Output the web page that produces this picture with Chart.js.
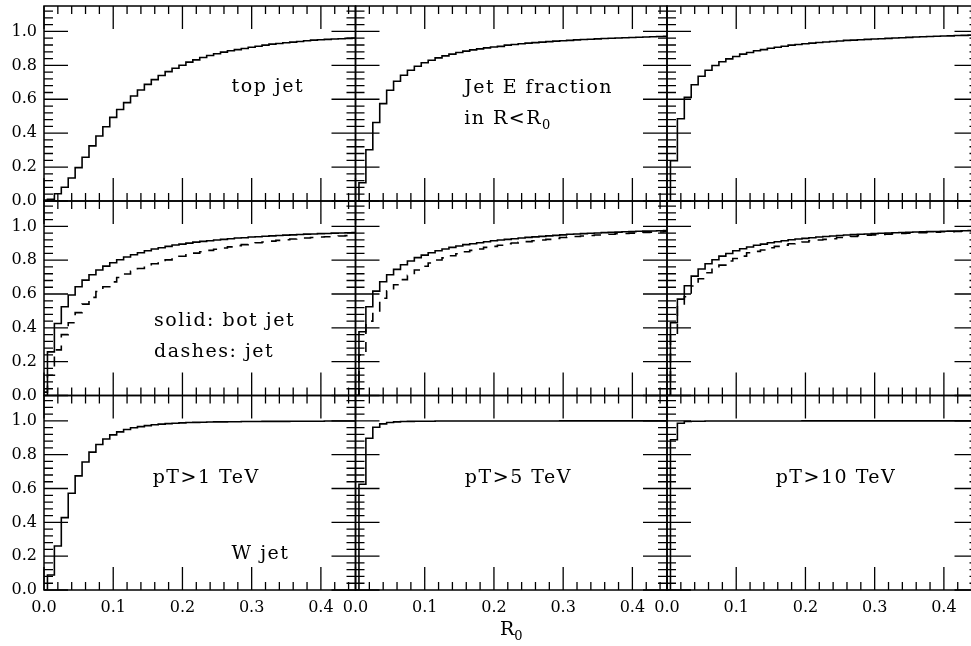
<!DOCTYPE html>
<html lang="en">
<head>
<meta charset="UTF-8">
<title>Jet E fraction in R&lt;R0</title>
<script src="https://cdn.jsdelivr.net/npm/chart.js@4"></script>
<style>
    html, body { margin: 0; padding: 0; overflow: hidden; background: #fff; }
    #figura { position: relative; width: 971px; height: 646px; overflow: hidden; }
    #figura canvas { position: absolute; left: 0; top: 0; }
</style>
</head>
<body>
<div id="figura"></div>

<script>
    // R0 bins (bin width 0.01)
    var rBins = [0.00, 0.01, 0.02, 0.03, 0.04, 0.05, 0.06, 0.07, 0.08, 0.09,
                 0.10, 0.11, 0.12, 0.13, 0.14, 0.15, 0.16, 0.17, 0.18, 0.19,
                 0.20, 0.21, 0.22, 0.23, 0.24, 0.25, 0.26, 0.27, 0.28, 0.29,
                 0.30, 0.31, 0.32, 0.33, 0.34, 0.35, 0.36, 0.37, 0.38, 0.39,
                 0.40, 0.41, 0.42, 0.43, 0.44, 0.45];

    var xTicks = [0.0, 0.1, 0.2, 0.3, 0.4];
    var yTicks = [0.0, 0.2, 0.4, 0.6, 0.8, 1.0];

    // top jet
    var topJet1 = [0.005, 0.010, 0.043, 0.081, 0.136, 0.197, 0.258, 0.325, 0.383, 0.438,
                   0.493, 0.540, 0.580, 0.619, 0.655, 0.688, 0.716, 0.740, 0.763, 0.783,
                   0.801, 0.819, 0.832, 0.846, 0.858, 0.868, 0.878, 0.886, 0.893, 0.899,
                   0.907, 0.913, 0.919, 0.925, 0.929, 0.933, 0.937, 0.941, 0.945, 0.949,
                   0.951, 0.953, 0.955, 0.957, 0.959, 0.961];
    var topJet5 = [0.000, 0.108, 0.302, 0.463, 0.574, 0.653, 0.706, 0.742, 0.771, 0.795,
                   0.815, 0.830, 0.844, 0.856, 0.866, 0.876, 0.884, 0.891, 0.897, 0.903,
                   0.908, 0.912, 0.919, 0.923, 0.927, 0.931, 0.934, 0.937, 0.940, 0.943,
                   0.945, 0.947, 0.950, 0.952, 0.954, 0.956, 0.958, 0.960, 0.961, 0.963,
                   0.964, 0.966, 0.967, 0.969, 0.970, 0.971];
    var topJet10 = [0.000, 0.237, 0.485, 0.611, 0.686, 0.736, 0.771, 0.799, 0.821, 0.838,
                    0.852, 0.866, 0.876, 0.886, 0.893, 0.901, 0.907, 0.913, 0.919, 0.923,
                    0.927, 0.931, 0.935, 0.938, 0.941, 0.944, 0.947, 0.949, 0.951, 0.953,
                    0.955, 0.957, 0.959, 0.961, 0.963, 0.965, 0.967, 0.969, 0.970, 0.972,
                    0.973, 0.974, 0.976, 0.977, 0.978, 0.979];

    // bot jet (solid) and light jet (dashes)
    var botJet1 = [0.000, 0.258, 0.426, 0.525, 0.594, 0.643, 0.682, 0.714, 0.742, 0.765,
                   0.785, 0.803, 0.819, 0.832, 0.844, 0.856, 0.866, 0.874, 0.882, 0.890,
                   0.895, 0.901, 0.907, 0.911, 0.915, 0.919, 0.923, 0.927, 0.931, 0.933,
                   0.937, 0.939, 0.942, 0.944, 0.946, 0.948, 0.950, 0.952, 0.954, 0.955,
                   0.957, 0.958, 0.960, 0.961, 0.962, 0.963];
    var jet1 = [0.020, 0.120, 0.270, 0.360, 0.430, 0.490, 0.540, 0.580, 0.615, 0.643,
                0.672, 0.698, 0.718, 0.735, 0.751, 0.766, 0.779, 0.791, 0.802, 0.813,
                0.823, 0.832, 0.842, 0.850, 0.858, 0.865, 0.872, 0.879, 0.886, 0.892,
                0.898, 0.903, 0.908, 0.913, 0.917, 0.921, 0.925, 0.928, 0.931, 0.934,
                0.937, 0.939, 0.941, 0.943, 0.945, 0.947];
    var botJet5 = [0.000, 0.377, 0.525, 0.617, 0.673, 0.714, 0.746, 0.773, 0.795, 0.815,
                   0.830, 0.844, 0.856, 0.866, 0.876, 0.884, 0.892, 0.897, 0.903, 0.909,
                   0.915, 0.919, 0.923, 0.927, 0.931, 0.935, 0.938, 0.941, 0.944, 0.947,
                   0.950, 0.953, 0.955, 0.957, 0.959, 0.961, 0.963, 0.965, 0.966, 0.968,
                   0.969, 0.971, 0.972, 0.973, 0.974, 0.975];
    var jet5 = [0.000, 0.240, 0.440, 0.500, 0.575, 0.619, 0.655, 0.685, 0.710, 0.742,
                0.764, 0.783, 0.801, 0.814, 0.826, 0.838, 0.850, 0.858, 0.866, 0.876,
                0.882, 0.888, 0.897, 0.902, 0.906, 0.910, 0.915, 0.919, 0.923, 0.929,
                0.934, 0.937, 0.940, 0.943, 0.946, 0.949, 0.951, 0.953, 0.956, 0.958,
                0.960, 0.962, 0.964, 0.966, 0.967, 0.968];
    var botJet10 = [0.000, 0.430, 0.570, 0.649, 0.706, 0.748, 0.779, 0.803, 0.824, 0.840,
                    0.856, 0.868, 0.878, 0.888, 0.895, 0.903, 0.909, 0.915, 0.921, 0.925,
                    0.929, 0.933, 0.937, 0.940, 0.943, 0.946, 0.949, 0.951, 0.953, 0.955,
                    0.957, 0.959, 0.961, 0.962, 0.964, 0.965, 0.967, 0.968, 0.969, 0.970,
                    0.971, 0.972, 0.973, 0.974, 0.975, 0.976];
    var jet10 = [0.000, 0.360, 0.535, 0.584, 0.647, 0.690, 0.726, 0.751, 0.771, 0.795,
                 0.810, 0.824, 0.844, 0.852, 0.860, 0.874, 0.882, 0.889, 0.897, 0.903,
                 0.908, 0.915, 0.919, 0.923, 0.927, 0.934, 0.937, 0.940, 0.945, 0.948,
                 0.950, 0.952, 0.954, 0.956, 0.958, 0.960, 0.962, 0.963, 0.965, 0.966,
                 0.968, 0.969, 0.970, 0.971, 0.972, 0.973];

    // W jet
    var wJet1 = [0.000, 0.089, 0.260, 0.428, 0.572, 0.675, 0.757, 0.815, 0.860, 0.893,
                 0.917, 0.935, 0.949, 0.959, 0.966, 0.972, 0.977, 0.981, 0.984, 0.986,
                 0.988, 0.990, 0.991, 0.992, 0.993, 0.994, 0.994, 0.995, 0.995, 0.996,
                 0.996, 0.996, 0.997, 0.997, 0.997, 0.997, 0.998, 0.998, 0.998, 0.998,
                 0.998, 0.999, 0.999, 0.999, 0.999, 0.999];
    var wJet5 = [0.000, 0.625, 0.897, 0.962, 0.982, 0.990, 0.994, 0.996, 0.997, 0.998,
                 0.998, 0.998, 0.999, 0.999, 0.999, 0.999, 0.999, 0.999, 0.999, 0.999,
                 0.999, 0.999, 0.999, 0.999, 0.999, 0.999, 0.999, 0.999, 0.999, 0.999,
                 1.000, 1.000, 1.000, 1.000, 1.000, 1.000, 1.000, 1.000, 1.000, 1.000,
                 1.000, 1.000, 1.000, 1.000, 1.000, 1.000];
    var wJet10 = [0.000, 0.888, 0.986, 0.996, 0.998, 0.998, 0.999, 0.999, 0.999, 0.999,
                  0.999, 0.999, 0.999, 0.999, 0.999, 0.999, 0.999, 0.999, 0.999, 0.999,
                  1.000, 1.000, 1.000, 1.000, 1.000, 1.000, 1.000, 1.000, 1.000, 1.000,
                  1.000, 1.000, 1.000, 1.000, 1.000, 1.000, 1.000, 1.000, 1.000, 1.000,
                  1.000, 1.000, 1.000, 1.000, 1.000, 1.000];

    // panel edges in page pixels (last column runs past the window, as in the original)
    var bordasX = [44, 355.5, 667, 978.5];
    var bordasY = [6, 201, 395.5, 590];
    var larguraCanvas = 1000, alturaCanvas = 646;
    var fonte = '"DejaVu Serif", "Liberation Serif", serif';

    var paineis = [
        { linha: 0, coluna: 0, solida: topJet1, textos: [{ t: 'top jet', x: 0.271, y: 0.645 }] },
        { linha: 0, coluna: 1, solida: topJet5, textos: [{ t: 'Jet E fraction', x: 0.157, y: 0.639 },
                                                        { t: 'in R<R', sub: '0', x: 0.157, y: 0.454 }] },
        { linha: 0, coluna: 2, solida: topJet10, textos: [] },
        { linha: 1, coluna: 0, solida: botJet1, tracejada: jet1,
          textos: [{ t: 'solid: bot jet', x: 0.159, y: 0.413 }, { t: 'dashes: jet', x: 0.159, y: 0.228 }] },
        { linha: 1, coluna: 1, solida: botJet5, tracejada: jet5, textos: [] },
        { linha: 1, coluna: 2, solida: botJet10, tracejada: jet10, textos: [] },
        { linha: 2, coluna: 0, solida: wJet1,
          textos: [{ t: 'pT>1 TeV', x: 0.157, y: 0.633 }, { t: 'W jet', x: 0.271, y: 0.183 }] },
        { linha: 2, coluna: 1, solida: wJet5, textos: [{ t: 'pT>5 TeV', x: 0.158, y: 0.633 }], tituloX: true },
        { linha: 2, coluna: 2, solida: wJet10, textos: [{ t: 'pT>10 TeV', x: 0.157, y: 0.633 }] }
    ];

    function pontos(valores) {
        return rBins.map(function (r, i) { return { x: r, y: valores[i] }; });
    }

    function escreve(ctx, texto, sub, x, y) {
        ctx.font = '19px ' + fonte;
        ctx.fillText(texto, x, y);
        if (sub) {
            var w = ctx.measureText(texto).width;
            ctx.font = '13px ' + fonte;
            ctx.fillText(sub, x + w, y + 5);
        }
    }

    // frame with inward ticks on all four sides, plus the panel labels
    function moldura(painel) {
        return {
            id: 'moldura',
            afterDatasetsDraw: function (chart) {
                var ctx = chart.ctx, a = chart.chartArea;
                var sx = chart.scales.x, sy = chart.scales.y;
                ctx.save();
                ctx.strokeStyle = '#000';
                ctx.lineWidth = 1.5;
                ctx.strokeRect(a.left, a.top, a.right - a.left, a.bottom - a.top);

                ctx.lineWidth = 1.3;
                ctx.beginPath();
                for (var i = 0; i <= 22; i++) {
                    var px = sx.getPixelForValue(i * 0.02);
                    var lx = (i % 5 == 0) ? 23 : 8;
                    ctx.moveTo(px, a.bottom); ctx.lineTo(px, a.bottom - lx);
                    ctx.moveTo(px, a.top); ctx.lineTo(px, a.top + lx);
                }
                for (var j = 0; j <= 28; j++) {
                    var py = sy.getPixelForValue(j * 0.04);
                    var ly = (j % 5 == 0) ? 24 : 9;
                    ctx.moveTo(a.left, py); ctx.lineTo(a.left + ly, py);
                    ctx.moveTo(a.right, py); ctx.lineTo(a.right - ly, py);
                }
                ctx.stroke();

                ctx.fillStyle = '#000';
                ctx.textBaseline = 'alphabetic';
                ctx.textAlign = 'left';
                ctx.letterSpacing = '1.5px';
                painel.textos.forEach(function (tx) {
                    escreve(ctx, tx.t, tx.sub, sx.getPixelForValue(tx.x), sy.getPixelForValue(tx.y));
                });

                if (painel.tituloX) {
                    ctx.letterSpacing = '0px';
                    ctx.font = '19px ' + fonte;
                    var wR = ctx.measureText('R').width;
                    ctx.font = '13px ' + fonte;
                    var w0 = ctx.measureText('0').width;
                    var cx = (a.left + a.right) / 2 - (wR + w0) / 2;
                    escreve(ctx, 'R', '0', cx, a.bottom + 45);
                }
                ctx.restore();
            }
        };
    }

    var figura = document.getElementById('figura');

    paineis.forEach(function (painel) {
        var canvas = document.createElement('canvas');
        canvas.width = larguraCanvas;
        canvas.height = alturaCanvas;
        figura.appendChild(canvas);

        var comEixoY = painel.coluna == 0;
        var comEixoX = painel.linha == 2;
        var esquerda = bordasX[painel.coluna];
        var baixo = alturaCanvas - bordasY[painel.linha + 1];

        var datasets = [{
            data: pontos(painel.solida),
            borderColor: '#000',
            borderWidth: 1.6,
            stepped: 'middle',
            pointRadius: 0,
            fill: false
        }];
        if (painel.tracejada) {
            datasets.push({
                data: pontos(painel.tracejada),
                borderColor: '#000',
                borderWidth: 1.6,
                borderDash: [10, 8],
                stepped: 'middle',
                pointRadius: 0,
                fill: false
            });
        }

        new Chart(canvas, {
            type: 'line',
            data: { datasets: datasets },
            plugins: [moldura(painel)],
            options: {
                responsive: false,
                animation: false,
                devicePixelRatio: 1,
                events: [],
                layout: {
                    padding: {
                        left: comEixoY ? 0 : esquerda,
                        right: larguraCanvas - bordasX[painel.coluna + 1],
                        top: bordasY[painel.linha],
                        bottom: comEixoX ? 0 : baixo
                    }
                },
                plugins: {
                    legend: { display: false },
                    tooltip: { enabled: false },
                    title: { display: false }
                },
                scales: {
                    x: {
                        type: 'linear',
                        min: 0,
                        max: 0.45,
                        display: comEixoX,
                        grid: { display: false, drawTicks: false },
                        border: { display: false },
                        afterBuildTicks: function (s) { s.ticks = xTicks.map(function (v) { return { value: v }; }); },
                        afterFit: function (s) {
                            s.height = comEixoX ? baixo : 0;
                            s.paddingLeft = 0; s.paddingRight = 0;
                        },
                        ticks: {
                            padding: 8,
                            color: '#000',
                            font: { family: fonte, size: 16 },
                            callback: function (v) { return v.toFixed(1); }
                        }
                    },
                    y: {
                        type: 'linear',
                        min: 0,
                        max: 1.15,
                        display: comEixoY,
                        grid: { display: false, drawTicks: false },
                        border: { display: false },
                        afterBuildTicks: function (s) { s.ticks = yTicks.map(function (v) { return { value: v }; }); },
                        afterFit: function (s) {
                            s.width = comEixoY ? esquerda : 0;
                            s.paddingTop = 0; s.paddingBottom = 0;
                        },
                        ticks: {
                            padding: 7,
                            color: '#000',
                            font: { family: fonte, size: 16 },
                            callback: function (v) { return v.toFixed(1); }
                        }
                    }
                }
            }
        });
    });
</script>
</body>
</html>
